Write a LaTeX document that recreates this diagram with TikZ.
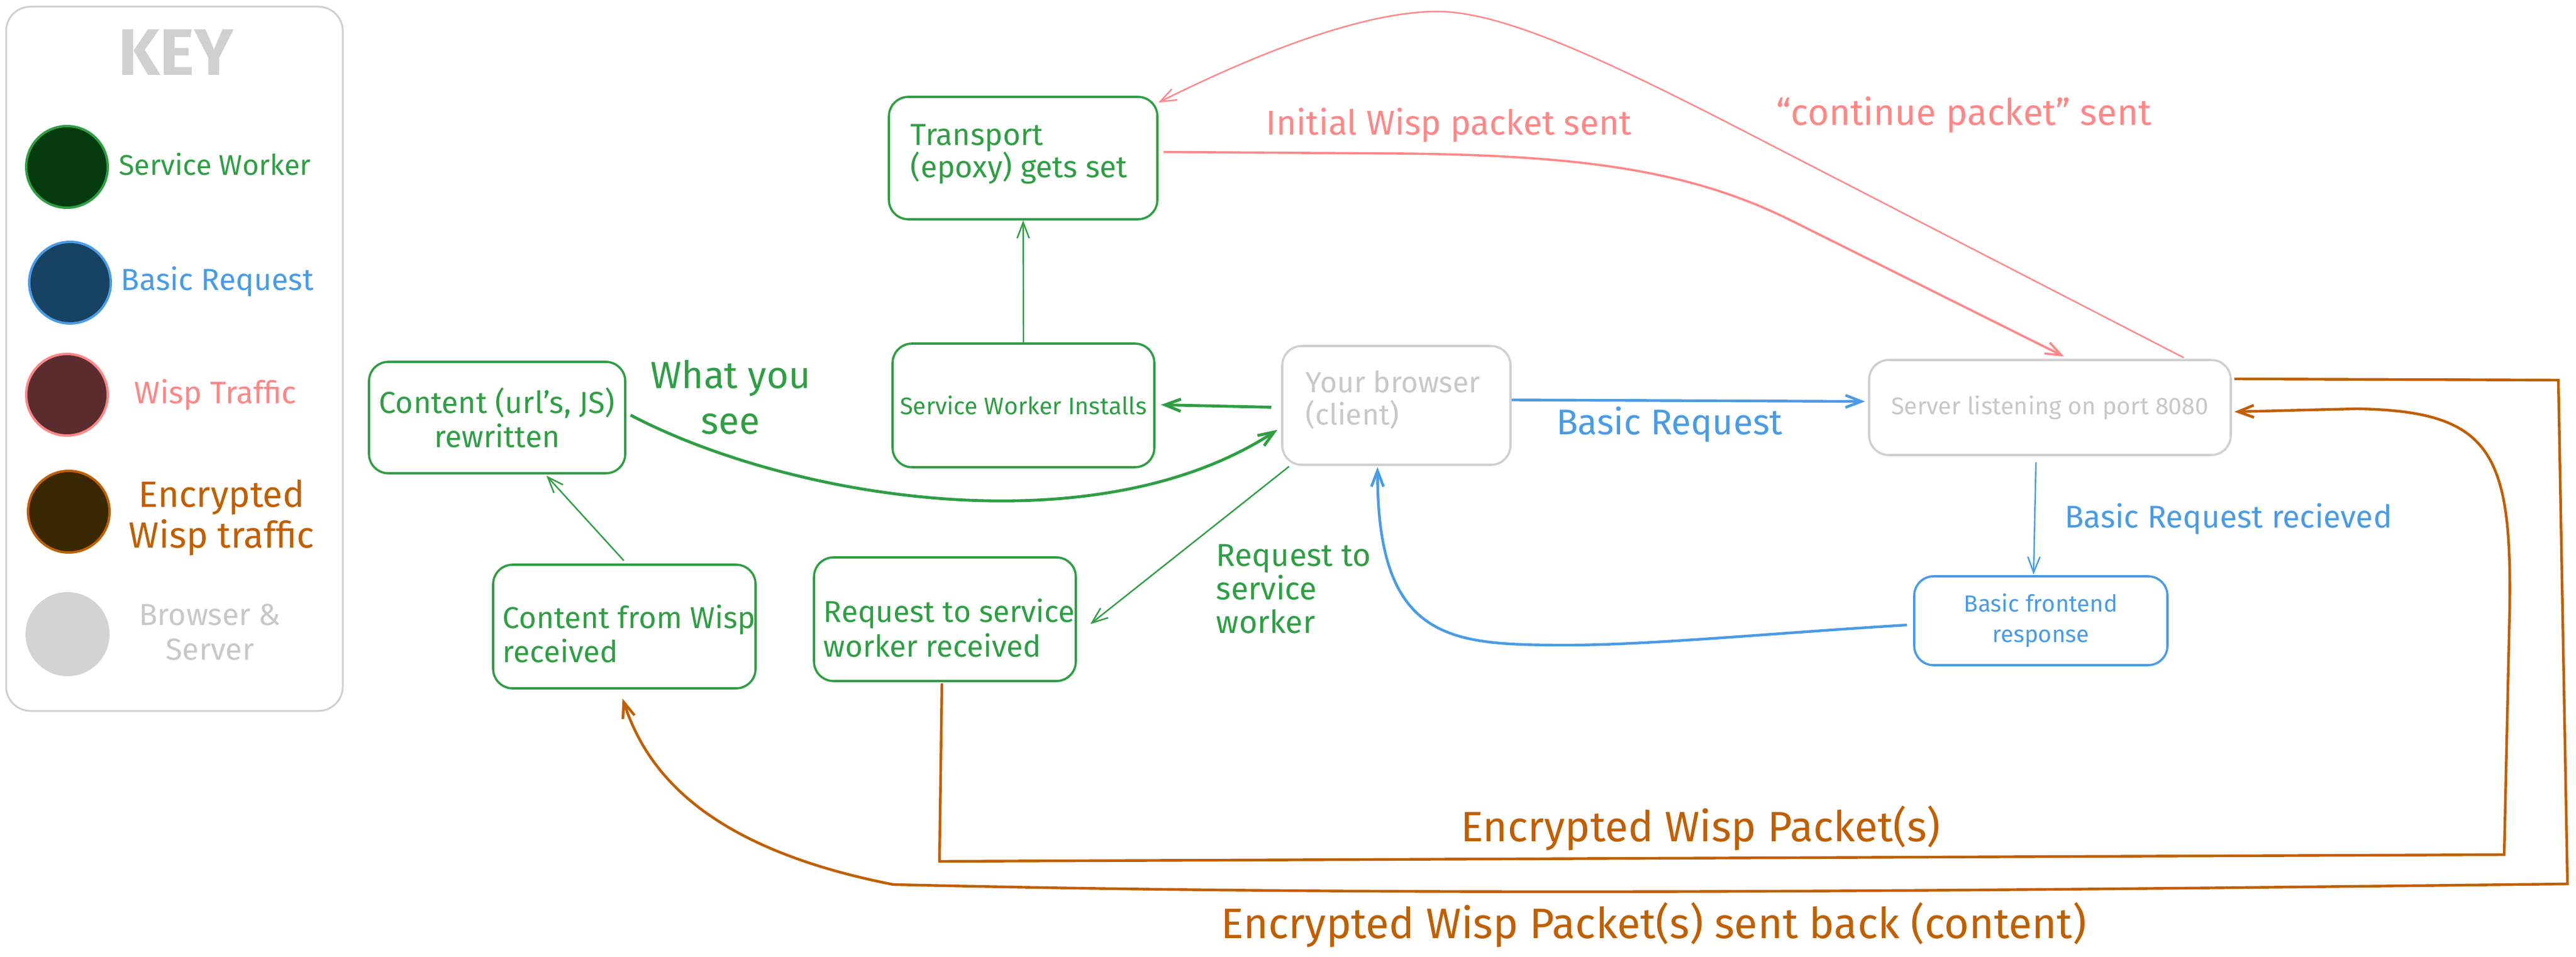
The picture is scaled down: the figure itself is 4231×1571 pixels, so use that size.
\documentclass[tikz,border=0pt]{standalone}
\usepackage{fontspec}
\setmainfont{Fira Sans}
\usetikzlibrary{arrows.meta}
\definecolor{gr}{HTML}{2F9E44}
\definecolor{bl}{HTML}{4A9BE6}
\definecolor{rd}{HTML}{FF8787}
\definecolor{og}{HTML}{C05F00}
\definecolor{gy}{HTML}{D0D0D0}
\definecolor{gytext}{HTML}{C8C8C8}
\definecolor{fgr}{HTML}{053B0F}
\definecolor{fbl}{HTML}{164263}
\definecolor{frd}{HTML}{5B2C2E}
\definecolor{fog}{HTML}{3A2803}
\definecolor{fgy}{HTML}{D3D3D3}
\newcommand\myfs[2]{\fontsize{#1pt}{#2pt}\selectfont}
\begin{document}
\begin{tikzpicture}[x=0.25pt,y=-0.25pt,
  bx/.style={draw, rounded corners=8pt, line width=0.9pt, inner sep=0pt},
  gbox/.style={bx, draw=gr, text=gr},
  bbox/.style={bx, draw=bl, text=bl},
  ybox/.style={bx, draw=gy, text=gytext},
  lbl/.style={inner sep=0pt, align=left},
  kc/.style={circle, line width=1pt, minimum size=33.5pt, inner sep=0pt},
  tip/.style={-{Straight Barb[length=6.5pt,width=5pt]}},
  gthin/.style={tip, draw=gr, line width=0.6pt},
  gmed/.style={tip, draw=gr, line width=1.2pt},
  bthin/.style={tip, draw=bl, line width=0.6pt},
  bmed/.style={tip, draw=bl, line width=1.1pt},
  rthin/.style={tip, draw=rd, line width=0.6pt},
  rmed/.style={tip, draw=rd, line width=0.9pt},
  omed/.style={tip, draw=og, line width=1.1pt}]
\useasboundingbox (0,0) rectangle (4231,1571);
\fill[white] (0,0) rectangle (4231,1571);

% ---------- key ----------
\node[draw=gy, rounded corners=10pt, line width=0.75pt, minimum width=138.25pt, minimum height=289pt, inner sep=0pt] (keybox) at (286.5,589) {};
\node[text=gy, font=\myfs{27}{30}\bfseries] (keyT) at (289,86) {KEY};
\node[kc, draw=gr, fill=fgr] (k1) at (110,274) {};
\node[kc, draw=bl, fill=fbl] (k2) at (115,464) {};
\node[kc, draw=rd, fill=frd] (k3) at (110,648) {};
\node[kc, draw=og, fill=fog] (k4) at (113,840) {};
\node[kc, draw=fgy, fill=fgy] (k5) at (111,1041) {};
\node[text=gr, font=\myfs{11.7}{14}] (k1T) at (353,270) {Service Worker};
\node[text=bl, font=\myfs{12.5}{14}] (k2T) at (357,462) {Basic Request};
\node[text=rd, font=\myfs{12.8}{14}] (k3T) at (354,648) {Wisp Traffic};
\node[text=og, align=center, font=\myfs{15}{16.75}] (k4T) at (364,850) {Encrypted\\Wisp traffic};
\node[text=gytext, align=center, font=\myfs{12.5}{14.25}] (k5T) at (345,1038) {Browser \&\\Server};

% ---------- boxes ----------
\node[gbox, minimum width=110.25pt, minimum height=50.25pt] (transport) at (1680.5,259.5) {};
\node[lbl, text=gr, anchor=west, font=\myfs{12.5}{13.25}] (transportT) at (1495,253) {Transport\\(epoxy) gets set};
\node[gbox, minimum width=107.5pt, minimum height=50.75pt, font=\myfs{9.85}{12}] (swi) at (1681,665.5) {Service Worker Installs};
\node[gbox, minimum width=105.25pt, minimum height=45.75pt, align=center, font=\myfs{12.5}{14}] (content) at (816.5,685.5) {Content (url's, JS)\\rewritten};
\node[gbox, minimum width=107.75pt, minimum height=50.75pt] (cwisp) at (1025.5,1028.5) {};
\node[lbl, text=gr, anchor=west, font=\myfs{12.4}{14}] (cwispT) at (825,1040) {Content from Wisp\\received};
\node[gbox, minimum width=107.5pt, minimum height=50.75pt] (reqsw) at (1552,1016.5) {};
\node[lbl, text=gr, anchor=west, font=\myfs{12.4}{14.25}] (reqswT) at (1352,1031) {Request to service\\worker received};
\node[ybox, minimum width=93.75pt, minimum height=48.75pt] (browser) at (2293.5,665.5) {};
\node[lbl, text=gytext, anchor=west, font=\myfs{12}{13.25}] (browserT) at (2144,656) {Your browser\\(client)};
\node[ybox, minimum width=148.5pt, minimum height=39pt, font=\myfs{9.9}{12}] (server) at (3367,669) {Server listening on port 8080};
\node[bbox, minimum width=104pt, minimum height=36.5pt, align=center, font=\myfs{9.6}{12.5}] (frontend) at (3352,1019) {Basic frontend\\response};

% ---------- free labels ----------
\node[text=gr, align=center, font=\myfs{15.5}{18.75}] (whatT) at (1200,652) {What you\\see};
\node[lbl, text=gr, anchor=west, font=\myfs{13}{13.75}] (reqlblT) at (1997,967) {Request to\\service\\worker};
\node[text=bl, font=\myfs{14.7}{17}] (basicT) at (2742,697) {Basic Request};
\node[text=bl, font=\myfs{12.9}{15}] (brrT) at (3660,852) {Basic Request recieved};
\node[text=rd, font=\myfs{14.2}{17}] (initT) at (2380,205) {Initial Wisp packet sent};
\node[text=rd, font=\myfs{15}{17}] (contT) at (3226,188) {``continue packet'' sent};
\node[text=og, font=\myfs{17.4}{20}] (ewpT) at (2793,1360) {Encrypted Wisp Packet(s)};
\node[text=og, font=\myfs{17.5}{20}] (ewpbT) at (2716,1518) {Encrypted Wisp Packet(s) sent back (content)};

% ---------- green connectors ----------
\draw[gthin] (swi.north) -- (transport.south);
\draw[gmed] ([shift={(-16,3)}]browser.west) -- ([shift={(9,-1)}]swi.east);
\draw[gmed] ([shift={(7,-4)}]content.east) .. controls (1300,820) and (1800,900) .. ([shift={(-6,40)}]browser.west);
\draw[gthin] ([shift={(13,1)}]browser.south west) -- ([shift={(22,8)}]reqsw.east);
\draw[gthin] ([shift={(-1,-5)}]cwisp.north) -- ([shift={(81,2)}]content.south);

% ---------- blue connectors ----------
\draw[bmed] ([shift={(0,-9)}]browser.east) -- ([shift={(-5,-10)}]server.west);
\draw[bthin] ([shift={(-23,10)}]server.south) -- ([shift={(-12,-1)}]frontend.north);
\draw[bmed] ([shift={(-10,7)}]frontend.west) .. controls (2900,1040) and (2700,1060) .. (2560,1059) .. controls (2380,1058) and (2262,1050) .. ([shift={(-31,2)}]browser.south);

% ---------- red connectors ----------
\draw[rmed] ([shift={(8,-10)}]transport.east) -- (2300,252) .. controls (2600,255) and (2780,280) .. (2948,365) -- ([shift={(23,-4)}]server.north);
\draw[rthin] ([shift={(-79,-2)}]server.north east) -- (2833,199) .. controls (2600,80) and (2450,15) .. (2351,19) .. controls (2250,22) and (2100,70) .. ([shift={(0,11)}]transport.north east);

% ---------- orange connectors ----------
\draw[omed] ([shift={(-5,2)}]reqsw.south) -- (1543,1414) -- (4113,1403) -- (4122,1000) .. controls (4126,740) and (4090,675) .. (3871,671) -- ([shift={(4,7)}]server.east);
\draw[omed] ([shift={(4,-47)}]server.east) -- (4202,624) -- (4217,1451) .. controls (3200,1463) and (2300,1472) .. (1467,1452) .. controls (1150,1390) and (1060,1260) .. ([shift={(-3,15)}]cwisp.south);
\end{tikzpicture}
\end{document}
